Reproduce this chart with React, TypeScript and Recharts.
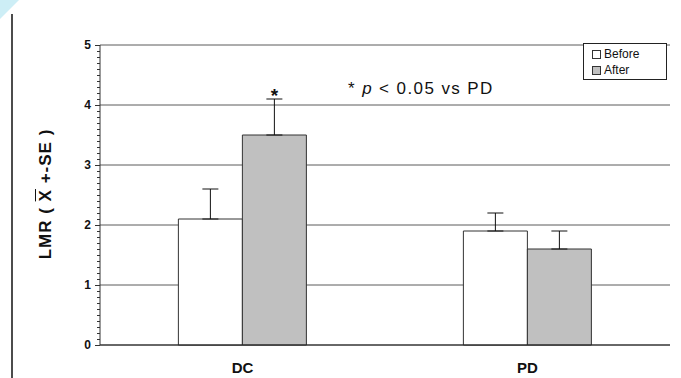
import React from "react"
import {
  Bar,
  BarChart,
  CartesianGrid,
  ErrorBar,
  LabelList,
  XAxis,
  YAxis,
} from "recharts"

const groups = ["DC", "PD"]
const beforeMeans = [2.1, 1.9]
const beforeSE = [0.5, 0.3]
const afterMeans = [3.5, 1.6]
const afterSE = [0.6, 0.3]
const significant = [true, false]
const yTicks = [0, 1, 2, 3, 4, 5]

const FONT = "'Liberation Sans', Arial, sans-serif"

// minor ticks every 0.1 between the labelled ones
const minorTicks = Array.from({ length: 51 }, (_, i) => i / 10)

const data = groups.map((g, i) => ({
  name: g,
  before: beforeMeans[i],
  beforeErr: [0, beforeSE[i]],
  after: afterMeans[i],
  afterErr: [0, afterSE[i]],
  sig: significant[i],
  afterSE: afterSE[i],
}))

function YTick(props: any) {
  const { x, y, payload } = props
  const v = payload.value
  const major = yTicks.includes(v)
  return (
    <g>
      <line
        x1={x - (major ? 5 : 3)}
        x2={x}
        y1={y}
        y2={y}
        stroke="#333"
        strokeWidth={1}
        shapeRendering="crispEdges"
      />
      {major && (
        <text x={x - 9} y={y + 4} textAnchor="end" fontSize={12} fontWeight="bold" fontFamily={FONT} fill="#111">
          {v}
        </text>
      )}
    </g>
  )
}

function XTick(props: any) {
  const { x, y, payload } = props
  return (
    <text x={x} y={y + 28} textAnchor="middle" fontSize={15} fontWeight="bold" fontFamily={FONT} fill="#111">
      {payload.value}
    </text>
  )
}

function SigStar(props: any) {
  const { x, y, width, height, index } = props
  if (!data[index].sig) return null
  const pxPerUnit = height / data[index].after
  const top = y - data[index].afterSE * pxPerUnit
  return (
    <text x={x + width / 2} y={top + 3} textAnchor="middle" fontSize={19} fontWeight="bold" fontFamily={FONT} fill="#111">
      *
    </text>
  )
}

export default function App() {
  return (
    <div style={{ position: "fixed", left: 0, top: 0, width: 681, height: 378, background: "#fff", overflow: "hidden" }}>
      <svg width={681} height={378} style={{ position: "absolute", left: 0, top: 0 }}>
        <polygon points="0,0 19,0 0,19" fill="#cdeef6" />
        <line x1={12} y1={14} x2={12} y2={378} stroke="#111" strokeWidth={1.5} />
      </svg>
      <div style={{ position: "absolute", left: 0, top: 0 }}>
        <BarChart
          width={681}
          height={378}
          data={data}
          margin={{ top: 45, right: 11, left: 0, bottom: 0 }}
          barCategoryGap="27.5%"
          barGap={0}
        >
          <CartesianGrid yAxisId="main" vertical={false} stroke="#5a5a5a" horizontalValues={yTicks} />
          <XAxis
            dataKey="name"
            axisLine={{ stroke: "#222" }}
            tickLine={false}
            tickSize={0}
            tickMargin={0}
            height={33}
            tick={<XTick />}
          />
          <YAxis
            yAxisId="main"
            domain={[0, 5]}
            ticks={minorTicks}
            interval={0}
            width={100}
            tickSize={0}
            tickMargin={0}
            tickLine={false}
            axisLine={{ stroke: "#333" }}
            tick={<YTick />}
          />
          <YAxis
            yAxisId="frame"
            orientation="right"
            domain={[0, 5]}
            ticks={yTicks}
            width={0}
            tick={false}
            tickLine={false}
            axisLine={{ stroke: "#444" }}
          />
          <Bar yAxisId="main" dataKey="before" fill="#ffffff" stroke="#333" isAnimationActive={false}>
            <ErrorBar dataKey="beforeErr" width={8} stroke="#111" strokeWidth={1} />
          </Bar>
          <Bar yAxisId="main" dataKey="after" fill="#c0c0c0" stroke="#333" isAnimationActive={false}>
            <ErrorBar dataKey="afterErr" width={8} stroke="#111" strokeWidth={1} />
            <LabelList dataKey="after" content={<SigStar />} />
          </Bar>
        </BarChart>
      </div>
      <div
        style={{
          position: "absolute",
          left: 46,
          top: 194,
          transform: "translate(-50%, -50%) rotate(-90deg)",
          whiteSpace: "nowrap",
          fontFamily: FONT,
          fontWeight: "bold",
          fontSize: 17,
          letterSpacing: 1,
          color: "#111",
        }}
      >
        LMR ( <span style={{ textDecoration: "overline" }}>X</span> +-SE )
      </div>
      <div
        style={{
          position: "absolute",
          left: 348,
          top: 79,
          fontFamily: FONT,
          fontSize: 17,
          letterSpacing: 1.4,
          color: "#111",
          whiteSpace: "nowrap",
        }}
      >
        * <i>p</i> &lt; 0.05 vs PD
      </div>
      <div
        style={{
          position: "absolute",
          left: 583,
          top: 43,
          width: 84,
          height: 37,
          border: "1px solid #222",
          background: "#fff",
          fontFamily: FONT,
          fontSize: 12,
          color: "#111",
          lineHeight: "16px",
          paddingTop: 2,
          boxSizing: "border-box",
        }}
      >
        {[
          { label: "Before", fill: "#ffffff" },
          { label: "After", fill: "#c0c0c0" },
        ].map((e) => (
          <div key={e.label} style={{ display: "flex", alignItems: "center", paddingLeft: 8 }}>
            <span
              style={{
                display: "inline-block",
                width: 7,
                height: 7,
                border: "1px solid #333",
                background: e.fill,
                marginRight: 3,
              }}
            />
            {e.label}
          </div>
        ))}
      </div>
    </div>
  )
}
